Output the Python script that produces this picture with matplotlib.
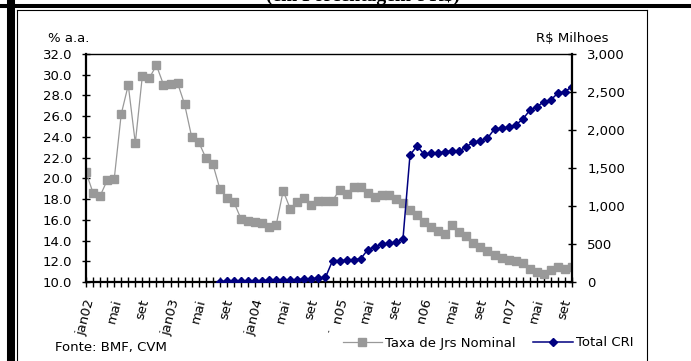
import numpy as np
import matplotlib.pyplot as plt
from matplotlib.lines import Line2D
from matplotlib.ticker import FuncFormatter, FixedLocator, MultipleLocator

# monthly data, jan/2002 .. oct/2007
taxa = [20.6, 18.6, 18.3, 19.8, 19.9, 26.2, 29.0, 23.4, 29.9, 29.7, 30.9, 29.05,
        29.1, 29.2, 27.15, 24.0, 23.5, 22.0, 21.4, 19.0, 18.1, 17.7, 16.1, 15.9,
        15.8, 15.7, 15.3, 15.5, 18.8, 17.05, 17.7, 18.1, 17.4, 17.8, 17.85, 17.85,
        18.9, 18.5, 19.2, 19.2, 18.6, 18.2, 18.4, 18.4, 18.0, 17.6, 16.9, 16.5,
        15.8, 15.3, 14.9, 14.6, 15.5, 14.8, 14.4, 13.8, 13.4, 13.0, 12.6, 12.3,
        12.1, 12.0, 11.8, 11.3, 11.0, 10.8, 11.2, 11.4, 11.3, 11.4]

cri = [np.nan] * 19 + [
    5, 8, 10, 12, 14, 16, 18, 20, 22, 25, 28, 32, 38, 45, 50, 60,
    280, 282, 285, 295, 305, 425, 465, 495, 510, 520, 565,
    1671, 1790, 1680, 1693, 1702, 1712, 1730, 1722, 1781, 1840, 1855,
    1891, 2015, 2022, 2040, 2066, 2141, 2258, 2302, 2373, 2395, 2487, 2505, 2570]

tick_labels = ['jan02', 'mai', 'set', 'jan03', 'mai', 'set', 'jan04', 'mai', 'set',
               'jan05', 'mai', 'set', 'jan06', 'mai', 'set', 'jan07', 'mai', 'set']

W, H = 691, 361
FONT = 'DejaVu Sans'
FS = 9.5
plt.rcParams['font.family'] = FONT

fig = plt.figure(figsize=(W / 100, H / 100), dpi=100)
ax = fig.add_axes([86 / W, 1 - 282 / H, (572 - 86) / W, (282 - 54) / H])
ax2 = ax.twinx()

x = np.arange(len(taxa))
l1, = ax.plot(x, taxa, color='#999999', lw=0.9, marker='s', ms=5.6,
              mec='#999999', mfc='#999999', label='Taxa de Jrs Nominal')
l2, = ax2.plot(x, cri, color='#000080', lw=1.1, marker='D', ms=4.5,
               mec='#000080', mfc='#000080', label='Total CRI')

ax.set_xlim(0, len(taxa) - 1)
ax.set_ylim(10, 32)
ax.yaxis.set_major_locator(MultipleLocator(2))
ax.yaxis.set_major_formatter(FuncFormatter(lambda v, p: f'{v:.1f}'))
ax2.set_ylim(0, 3000)
ax2.yaxis.set_major_locator(MultipleLocator(500))
ax2.yaxis.set_major_formatter(FuncFormatter(lambda v, p: f'{v:,.0f}'))

ax.xaxis.set_major_locator(FixedLocator(np.arange(0, len(taxa), 4)))
ax.set_xticklabels(tick_labels, rotation=75, fontsize=FS)
ax.xaxis.set_minor_locator(FixedLocator(x))
ax.tick_params(axis='x', which='both', direction='inout', length=7, width=1, pad=8)
ax.tick_params(axis='y', direction='inout', length=6, width=1, labelsize=FS, pad=7)
ax2.tick_params(axis='y', direction='inout', length=6, width=1, labelsize=FS, pad=8)

for s in ['left', 'bottom']:
    ax.spines[s].set_linewidth(1.6)
ax.spines['top'].set_linewidth(1.0)
ax.spines['right'].set_visible(False)
for s in ['left', 'bottom', 'top']:
    ax2.spines[s].set_visible(False)
ax2.spines['right'].set_linewidth(1.6)

# outer frame
def fline(x0, y0, x1, y1, lw):
    fig.add_artist(Line2D([x0 / W, x1 / W], [1 - y0 / H, 1 - y1 / H],
                          transform=fig.transFigure, color='black', lw=lw))

fline(11, 0, 11, H, 5.8)
fline(0, 5.8, W, 5.8, 2.9)
fline(17, 10, 17, H, 0.8)
fline(17, 10, 647, 10, 0.8)
fline(647, 10, 647, H, 0.8)

fig.text(363 / W, 1 - 0.8 / H, '(em Porcentagem e R$)', ha='center', va='baseline',
         fontfamily='Liberation Serif', fontweight='bold', fontsize=14)

fig.text(48 / W, 1 - 39 / H, '% a.a.', ha='left', va='center', fontsize=FS)
fig.text(608 / W, 1 - 39 / H, 'R$ Milhoes', ha='right', va='center', fontsize=FS)
fig.text(55 / W, 1 - 347 / H, 'Fonte: BMF, CVM', ha='left', va='center', fontsize=FS)

leg = fig.legend(handles=[l1, l2], loc='center left', bbox_to_anchor=(330 / W, 1 - 343 / H),
                 ncol=2, fontsize=FS, frameon=True, framealpha=1.0, handlelength=3.0,
                 handletextpad=0.25, columnspacing=1.3, borderpad=0.95,
                 borderaxespad=0, markerscale=1.0)
leg.get_frame().set_facecolor('white')
leg.get_frame().set_edgecolor('none')
leg.get_frame().set_boxstyle('square', pad=0)

fig.savefig('out.png', dpi=100)
